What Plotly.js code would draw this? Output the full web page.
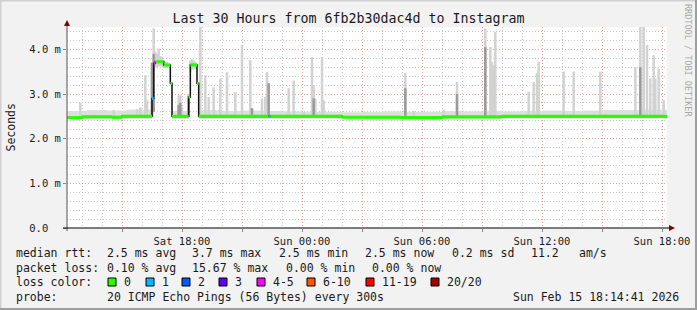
<!DOCTYPE html>
<html>
<head>
<meta charset="utf-8">
<script src="https://cdn.plot.ly/plotly-3.0.1.min.js"></script>
<style>html,body{margin:0;padding:0;background:#f2f2f2;}#chart{width:697px;height:310px;}</style>
</head>
<body>
<div id="chart"></div>
<script>
// ---------------- DATA ----------------
const rangeStart = 'Sat 12:15';
const rangeEnd = 'Sun 18:15';

// x-axis ticks (every 3 h, labelled every 6 h)
const tickTimes = ['Sat 15:00','Sat 18:00','Sat 21:00','Sun 00:00','Sun 03:00','Sun 06:00','Sun 09:00','Sun 12:00','Sun 15:00','Sun 18:00'];
const tickLabels = ['','Sat 18:00','','Sun 00:00','','Sun 06:00','','Sun 12:00','','Sun 18:00'];
// y-axis ticks (ms)
const yTickVals = [0, 1, 2, 3, 4];
const yTickLabels = ['0.0\u00a0\u00a0', '1.0 m', '2.0 m', '3.0 m', '4.0 m'];

// median rtt (ms) step points and loss bucket index
const medTime = ['Sat 12:15','Sat 13:00','Sat 14:30','Sat 15:00','Sat 16:30','Sat 16:35','Sat 16:40','Sat 17:05','Sat 17:25','Sat 17:30',
                 'Sat 18:20','Sat 18:25','Sat 18:45','Sat 18:50','Sat 22:20','Sat 22:25','Sun 02:00','Sun 05:00','Sun 07:00','Sun 10:00'];
const medVal  = [2.47, 2.49, 2.48, 2.50, 2.90, 3.69, 3.72, 3.65, 3.24, 2.50,
                 2.93, 3.65, 3.24, 2.50, 2.50, 2.50, 2.48, 2.47, 2.49, 2.50];
const medLoss = [0, 0, 0, 0, 1, 4, 0, 0, 0, 0,
                 0, 0, 0, 0, 1, 0, 0, 0, 0, 0];

// smoke: background band around the median
const fuzzStart = ['Sat 12:15','Sat 13:15','Sat 14:15','Sat 15:15','Sat 17:30','Sat 18:50','Sat 20:00','Sat 21:00','Sat 22:00','Sat 23:00',
                   'Sun 00:00','Sun 01:00','Sun 02:00','Sun 03:00','Sun 04:00','Sun 05:00','Sun 06:00','Sun 07:00','Sun 08:00','Sun 09:00',
                   'Sun 10:00','Sun 11:00','Sun 12:00','Sun 13:00','Sun 14:00','Sun 15:00','Sun 16:00','Sun 17:00'];
const fuzzEnd   = ['Sat 13:15','Sat 14:15','Sat 15:15','Sat 16:30','Sat 18:20','Sat 20:00','Sat 21:00','Sat 22:00','Sat 23:00','Sun 00:00',
                   'Sun 01:00','Sun 02:00','Sun 03:00','Sun 04:00','Sun 05:00','Sun 06:00','Sun 07:00','Sun 08:00','Sun 09:00','Sun 10:00',
                   'Sun 11:00','Sun 12:00','Sun 13:00','Sun 14:00','Sun 15:00','Sun 16:00','Sun 17:00','Sun 18:15'];
const fuzzLo = [2.44,2.44,2.44,2.44,2.44,2.44,2.44,2.44,2.44,2.44,
                2.45,2.45,2.45,2.45,2.45,2.45,2.45,2.45,2.45,2.45,
                2.45,2.45,2.45,2.45,2.45,2.45,2.45,2.45];
const fuzzHi = [2.62,2.64,2.63,2.65,2.62,2.64,2.62,2.63,2.62,2.61,
                2.60,2.60,2.59,2.60,2.61,2.60,2.60,2.62,2.61,2.62,
                2.61,2.62,2.63,2.62,2.63,2.64,2.64,2.65];

// smoke spikes: time, bottom, top, darker part top (null = none)
const smokeTime = ['Sat 12:55','Sat 14:35','Sat 15:45','Sat 15:55','Sat 16:10','Sat 16:15','Sat 16:30','Sat 16:35','Sat 16:40','Sat 16:45',
                   'Sat 16:50','Sat 16:55','Sat 17:00','Sat 17:05','Sat 17:10','Sat 17:15','Sat 17:50','Sat 17:55','Sat 18:00','Sat 18:20',
                   'Sat 18:25','Sat 18:30','Sat 18:35','Sat 18:40','Sat 18:55','Sat 19:10','Sat 19:20','Sat 19:35','Sat 19:55','Sat 20:15',
                   'Sat 20:40','Sat 21:00','Sat 21:25','Sat 21:30','Sat 22:00','Sat 22:10','Sat 22:15','Sat 22:20','Sat 23:20','Sat 23:35',
                   'Sun 00:05','Sun 00:30','Sun 00:35','Sun 00:40','Sun 01:00','Sun 01:05','Sun 05:10','Sun 05:35','Sun 07:05','Sun 07:45',
                   'Sun 09:10','Sun 09:25','Sun 09:30','Sun 09:35','Sun 09:40','Sun 11:20','Sun 11:35','Sun 11:45','Sun 11:50','Sun 13:05',
                   'Sun 13:35','Sun 14:55','Sun 16:40','Sun 16:55','Sun 17:05','Sun 17:15','Sun 17:25','Sun 17:35','Sun 17:40','Sun 17:50',
                   'Sun 18:05'];
const smokeBase = [2.5,2.5,2.5,2.5,2.5,2.5,2.5,2.6,3.6,3.6,
                   3.62,3.62,3.62,3.58,3.58,3.58,2.5,2.5,2.5,2.5,
                   3.5,3.55,3.55,3.55,2.5,2.5,2.5,2.5,2.5,2.5,
                   2.5,2.5,2.5,2.5,2.5,2.5,2.5,2.5,2.5,2.5,
                   2.5,2.5,2.5,2.5,2.5,2.5,2.5,2.5,2.5,2.5,
                   2.5,2.5,2.5,2.5,2.5,2.5,2.5,2.5,2.5,2.5,
                   2.5,2.5,2.5,2.5,2.5,2.5,2.5,2.5,2.5,2.5,
                   2.5];
const smokeTop = [2.80,2.64,2.66,2.70,3.42,2.86,3.70,4.47,3.95,3.90,
                  4.02,3.85,3.82,3.75,3.72,3.72,2.97,2.97,2.70,3.00,
                  3.75,3.78,3.75,3.72,4.50,3.42,2.93,3.15,3.35,3.49,
                  3.04,4.10,3.76,2.68,2.90,2.93,3.49,3.24,3.13,3.30,
                  2.60,3.83,3.20,2.90,3.83,2.86,3.47,2.62,2.65,3.27,
                  4.47,4.05,3.72,3.65,4.39,3.05,3.27,3.47,3.72,3.50,
                  3.50,3.50,3.60,4.50,4.50,4.10,3.35,3.87,3.35,3.57,
                  2.86];
const smokeMid = [null,null,null,null,null,null,3.70,3.90,null,null,
                  null,null,null,null,null,null,2.75,2.80,null,2.95,
                  null,null,null,null,null,null,null,null,null,null,
                  null,null,null,2.68,null,null,null,3.24,null,null,
                  null,null,2.90,null,null,null,3.13,null,null,3.00,
                  4.05,null,null,null,null,null,null,null,null,null,
                  null,null,null,3.60,null,null,null,null,null,null,
                  null];

// legend / footer texts
const lossLabels = ['0','1','2','3','4-5','6-10','11-19','20/20'];
const lossColors = ['#26ff00','#00b8ff','#0059ff','#5e00ff','#ff00ff','#ff5500','#ff0000','#a10000'];
const rttStats  = ['2.5 ms avg','3.7 ms max','2.5 ms min','2.5 ms now','0.2 ms sd','11.2','am/s'];
const lossStats = ['0.10 % avg','15.67 % max','0.00 % min','0.00 % now'];
const probeText = '20 ICMP Echo Pings (56 Bytes) every 300s';
const stampText = 'Sun Feb 15 18:14:41 2026';
const titleText = 'Last 30 Hours from 6fb2b30dac4d to Instagram';

// ---------------- HELPERS ----------------
function toDate(s){ const [d,t]=s.split(' '); return (d==='Sat'?'2026-02-14 ':'2026-02-15 ')+t; }
function ms(s){ return new Date(toDate(s).replace(' ','T')+':00Z').getTime(); }
function isoFromMs(v){ return new Date(v).toISOString().replace('T',' ').slice(0,19); }
const L=67, R=667, T=27, B=228;
const px = x => (x-L)/(R-L);
const py = y => (B-y)/(B-T);
const MONO = 'DejaVu Sans Mono';

// ---------------- TRACES ----------------
const traces = [];
// fuzz band
traces.push({type:'bar', x: fuzzStart.map((s,i)=>isoFromMs((ms(s)+ms(fuzzEnd[i]))/2)),
  base: fuzzLo, y: fuzzHi.map((h,i)=>h-fuzzLo[i]), width: fuzzStart.map((s,i)=>ms(fuzzEnd[i])-ms(s)),
  marker:{color:'#dedede', line:{width:0}}, hoverinfo:'skip'});
// smoke spikes
traces.push({type:'bar', x: smokeTime.map(toDate), base: smokeBase, y: smokeTop.map((t,i)=>t-smokeBase[i]),
  width: 450000, marker:{color:'#d2d2d2', line:{width:0}}, hoverinfo:'skip'});
const mi = smokeMid.map((m,i)=>i).filter(i=>smokeMid[i]!==null);
traces.push({type:'bar', x: mi.map(i=>toDate(smokeTime[i])), base: mi.map(i=>smokeBase[i]), y: mi.map(i=>smokeMid[i]-smokeBase[i]),
  width: 450000, marker:{color:'#9a9a9a', line:{width:0}}, hoverinfo:'skip'});
// black median line
traces.push({type:'scatter', mode:'lines', x: medTime.concat([rangeEnd]).map(toDate), y: medVal.concat([medVal[medVal.length-1]]),
  line:{color:'#111', width:1.5, shape:'hv'}, hoverinfo:'skip'});
// loss-coloured median segments
lossColors.forEach((c,b)=>{
  const xs=[], ys=[];
  medTime.forEach((t,i)=>{
    if(medLoss[i]!==b) return;
    const tEnd = i+1<medTime.length ? medTime[i+1] : rangeEnd;
    xs.push(toDate(t), toDate(tEnd), null); ys.push(medVal[i], medVal[i], null);
  });
  if(xs.length) traces.push({type:'scatter', mode:'lines', x:xs, y:ys, line:{color:c, width:3.2}, hoverinfo:'skip', connectgaps:false});
});

// ---------------- ANNOTATIONS ----------------
const ann = [];
function txt(x,y,text,opt){ ann.push(Object.assign({xref:'paper',yref:'paper',x:px(x),y:py(y),text:text,showarrow:false,
  xanchor:'left',yanchor:'middle',font:{family:MONO,size:11.5,color:'#1a1a1a'},borderpad:0},opt||{})); }
const y1=253, y2=268, y3=282, y4=297;
txt(15,y1,'median rtt:');
[106,190.5,278,364,450.5,529.5,578].forEach((x,i)=>txt(x,y1,rttStats[i]));
txt(15,y2,'packet loss:');
[106,190.5,285,371].forEach((x,i)=>txt(x,y2,lossStats[i]));
txt(15,y3,'loss color:');
const boxX = [108,146,182,219,257,307,366,431];
boxX.forEach((x,i)=>txt(x+15,y3,lossLabels[i]));
txt(15,y4,'probe:');
txt(106,y4,probeText);
txt(680,y4,stampText,{xanchor:'right'});
txt(10.5,128,'Seconds',{xanchor:'center',textangle:-90});
txt(688,60,'RRDTOOL / TOBI OETIKER',{xanchor:'center',textangle:90,font:{family:MONO,size:8.5,color:'#a8a8a8'}});

// ---------------- SHAPES ----------------
const shapes = [];
function line(x0,y0,x1,y1,color,w){ shapes.push({type:'line',xref:'paper',yref:'paper',x0:px(x0),y0:py(y0),x1:px(x1),y1:py(y1),line:{color:color,width:w}}); }
function tri(pts,color){ shapes.push({type:'path',xref:'paper',yref:'paper',path:'M'+pts.map(p=>px(p[0])+','+py(p[1])).join(' L')+' Z',fillcolor:color,line:{width:0}}); }
// frame
line(0,0.5,697,0.5,'#d0d0d0',2); line(0.5,0,0.5,310,'#d0d0d0',2);
line(0,309,697,309,'#9e9e9e',2); line(696,0,696,310,'#9e9e9e',2);
// axes
line(67,231,67,23,'#555',1);
line(63,228,671,228,'#000',1);
tri([[67,20],[64,26],[70,26]],'#800000');
tri([[675,228],[669,225],[669,231]],'#800000');
// loss colour boxes
boxX.forEach((x,i)=>shapes.push({type:'rect',xref:'paper',yref:'paper',x0:px(x),x1:px(x+8),y0:py(278),y1:py(286),fillcolor:lossColors[i],line:{color:'#000',width:1}}));

const layout = {
  width:697, height:310, margin:{l:67,r:30,t:27,b:82,pad:0},
  paper_bgcolor:'#f2f2f2', plot_bgcolor:'#ffffff', showlegend:false, barmode:'overlay',
  title:{text:titleText, font:{family:MONO,size:13.3,color:'#1a1a1a'}, x:0.5, xref:'container', y:1-18/310, yref:'container', yanchor:'middle'},
  xaxis:{type:'date', range:[toDate(rangeStart),toDate(rangeEnd)], tickmode:'array', tickvals:tickTimes.map(toDate), ticktext:tickLabels,
    ticks:'outside', ticklen:3, tickcolor:'#888', showgrid:true, gridcolor:'#e8a0a0', griddash:'1px,2px', gridwidth:1,
    minor:{tickmode:'linear', dtick:3600000, tick0:'2026-02-14 12:00', showgrid:true, gridcolor:'#c8c8c8', griddash:'1px,2px', gridwidth:1, ticks:''},
    showline:false, zeroline:false, tickfont:{family:MONO,size:10.5,color:'#1a1a1a'}, fixedrange:true},
  yaxis:{range:[0,4.5], tickmode:'array', tickvals:yTickVals, ticktext:yTickLabels, ticks:'outside', ticklen:3, tickcolor:'#888',
    showgrid:true, gridcolor:'#e8a0a0', griddash:'1px,2px', gridwidth:1,
    minor:{tickmode:'linear', dtick:0.2, tick0:0, showgrid:true, gridcolor:'#c8c8c8', griddash:'1px,2px', gridwidth:1, ticks:''},
    showline:false, zeroline:false, tickfont:{family:MONO,size:10.5,color:'#1a1a1a'}, fixedrange:true},
  annotations:ann, shapes:shapes
};
Plotly.newPlot('chart', traces, layout, {displayModeBar:false, staticPlot:true});
</script>
</body>
</html>
